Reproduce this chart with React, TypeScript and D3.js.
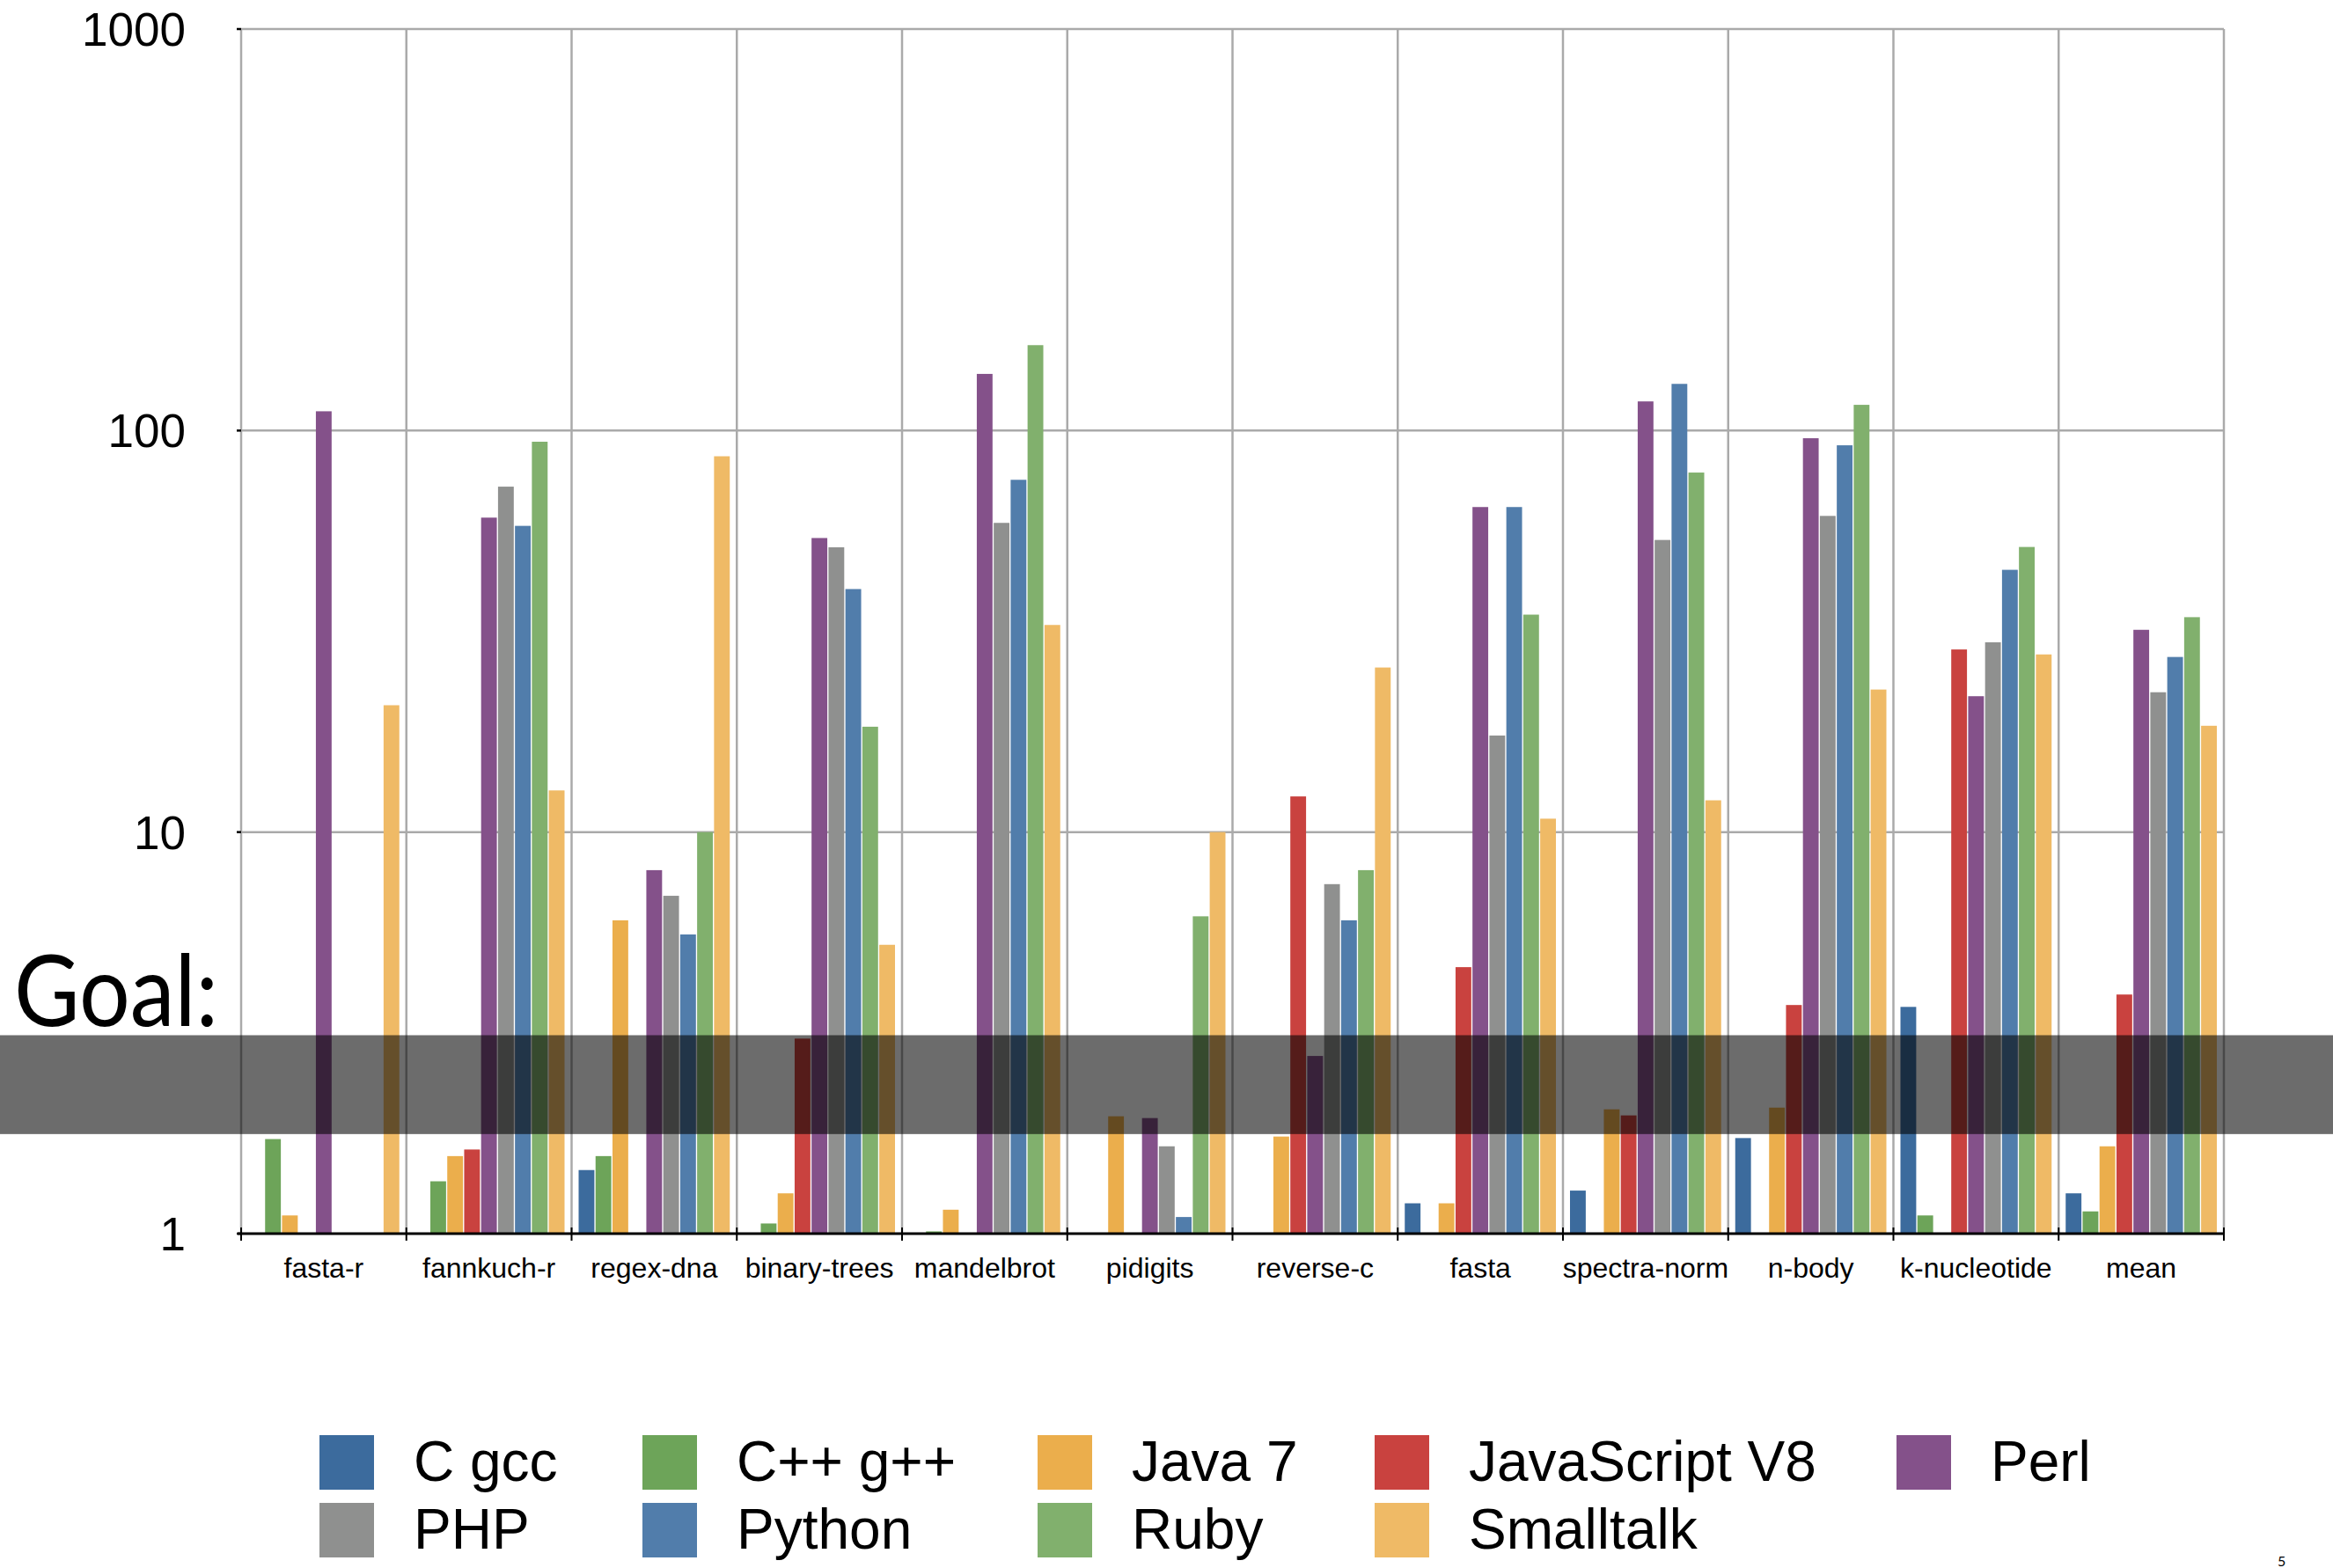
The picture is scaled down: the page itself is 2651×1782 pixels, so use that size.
import React from "react";
import * as d3 from "d3";

const categories = ["fasta-r", "fannkuch-r", "regex-dna", "binary-trees", "mandelbrot", "pidigits", "reverse-c", "fasta", "spectra-norm", "n-body", "k-nucleotide", "mean"];

const seriesNames = ["C gcc", "C++ g++", "Java 7", "JavaScript V8", "Perl", "PHP", "Python", "Ruby", "Smalltalk"];
const seriesColors = ["#3c6b9d", "#6da459", "#ebae4c", "#c9423f", "#84518a", "#8f908f", "#517dab", "#81b06d", "#efba66"];

const cGcc = [null, null, 1.44, null, null, null, null, 1.19, 1.28, 1.73, 3.67, 1.26];
const cppGpp = [1.72, 1.35, 1.56, 1.06, 1.013, null, null, null, null, null, 1.11, 1.136];
const java7 = [1.11, 1.56, 6.03, 1.26, 1.147, 1.96, 1.745, 1.19, 2.04, 2.06, null, 1.65];
const jsV8 = [null, 1.62, null, 3.06, null, null, 12.27, 4.61, 1.97, 3.71, 28.5, 3.94];
const perl = [111.7, 60.7, 8.04, 54.0, 138.4, 1.94, 2.77, 64.5, 118.2, 95.7, 21.8, 31.9];
const php = [null, 72.5, 6.94, 51.2, 58.9, 1.65, 7.42, 17.4, 53.4, 61.3, 29.7, 22.3];
const python = [null, 57.9, 5.56, 40.3, 75.4, 1.1, 6.03, 64.5, 130.7, 91.9, 45.0, 27.3];
const ruby = [null, 93.8, 10.0, 18.3, 163.2, 6.17, 8.04, 34.8, 78.6, 115.9, 51.3, 34.3];
const smalltalk = [20.7, 12.7, 86.3, 5.24, 32.8, 10.0, 25.7, 10.8, 12.0, 22.65, 27.7, 18.4];

const seriesValues = [cGcc, cppGpp, java7, jsV8, perl, php, python, ruby, smalltalk];

const yTicks = [1, 10, 100, 1000];
const goalBand = [1.77, 3.12];

const W = 2651;
const H = 1782;
const plotLeft = 274;
const plotRight = 2527;
const plotTop = 33;
const plotBottom = 1402;

export default function App() {
  const x0 = d3.scaleBand<string>().domain(categories).range([plotLeft, plotRight]).padding(0);
  const gw = x0.bandwidth();
  const x1 = d3.scaleBand<string>().domain(seriesNames).range([8, gw - 8]).paddingInner(0.07);
  const y = d3.scaleLog().domain([1, 1000]).range([plotBottom, plotTop]);

  const boundaries = categories.map((c) => x0(c) as number).concat([plotRight]);

  const font = "'Liberation Sans', Arial, Helvetica, sans-serif";

  const legendCols = [363, 730, 1179, 1562, 2155];
  const legendRows = [1631, 1708];
  const sw = 62;

  return (
    <svg width={W} height={H} style={{ position: "fixed", left: 0, top: 0, background: "#fff" }}>
      <rect x={0} y={0} width={W} height={H} fill="#fff" />
      {yTicks.slice(1).map((t) => (
        <line key={"hg" + t} x1={plotLeft} x2={plotRight} y1={y(t)} y2={y(t)} stroke="#aaaaaa" strokeWidth={2.5} />
      ))}
      {boundaries.map((b, i) => (
        <line key={"vg" + i} x1={b} x2={b} y1={plotTop} y2={plotBottom} stroke="#aaaaaa" strokeWidth={2.5} />
      ))}
      {categories.map((c, ci) => (
        <g key={c} transform={`translate(${x0(c)},0)`}>
          {seriesNames.map((s, si) => {
            const v = seriesValues[si][ci];
            if (v == null) return null;
            const yt = y(v);
            return (
              <rect key={s} x={x1(s)} y={yt} width={x1.bandwidth()} height={plotBottom - yt} fill={seriesColors[si]} />
            );
          })}
        </g>
      ))}
      <line x1={plotLeft - 4} x2={plotRight} y1={plotBottom} y2={plotBottom} stroke="#000" strokeWidth={3} />
      {boundaries.map((b, i) => (
        <line key={"xt" + i} x1={b} x2={b} y1={plotBottom - 7} y2={plotBottom + 8} stroke="#000" strokeWidth={2} />
      ))}
      {yTicks.map((t) => (
        <g key={"yt" + t}>
          <line x1={plotLeft - 5} x2={plotLeft} y1={y(t)} y2={y(t)} stroke="#000" strokeWidth={2.5} />
          <text x={211} y={y(t) + 19} textAnchor="end" fontFamily={font} fontSize={53} fill="#000">
            {t}
          </text>
        </g>
      ))}
      {categories.map((c) => (
        <text key={"xl" + c} x={(x0(c) as number) + gw / 2} y={1452} textAnchor="middle" fontFamily={font} fontSize={32} fill="#000">
          {c}
        </text>
      ))}
      <rect x={0} y={y(goalBand[1])} width={W} height={y(goalBand[0]) - y(goalBand[1])} fill="#000" fillOpacity={0.576} />
      <text x={16} y={1166} fontFamily="Lato, 'Open Sans', sans-serif" fontSize={112} textLength={232} lengthAdjust="spacingAndGlyphs" fill="#000">
        Goal:
      </text>
      {seriesNames.map((s, i) => {
        const col = i % 5;
        const row = Math.floor(i / 5);
        return (
          <g key={"lg" + s}>
            <rect x={legendCols[col]} y={legendRows[row]} width={sw} height={sw} fill={seriesColors[i]} />
            <text x={legendCols[col] + 107} y={legendRows[row] + 52} fontFamily={font} fontSize={64} fill="#000">
              {s}
            </text>
          </g>
        );
      })}
      <text x={2588} y={1780} fontFamily="Lato, sans-serif" fontSize={16} fill="#000">
        5
      </text>
    </svg>
  );
}
